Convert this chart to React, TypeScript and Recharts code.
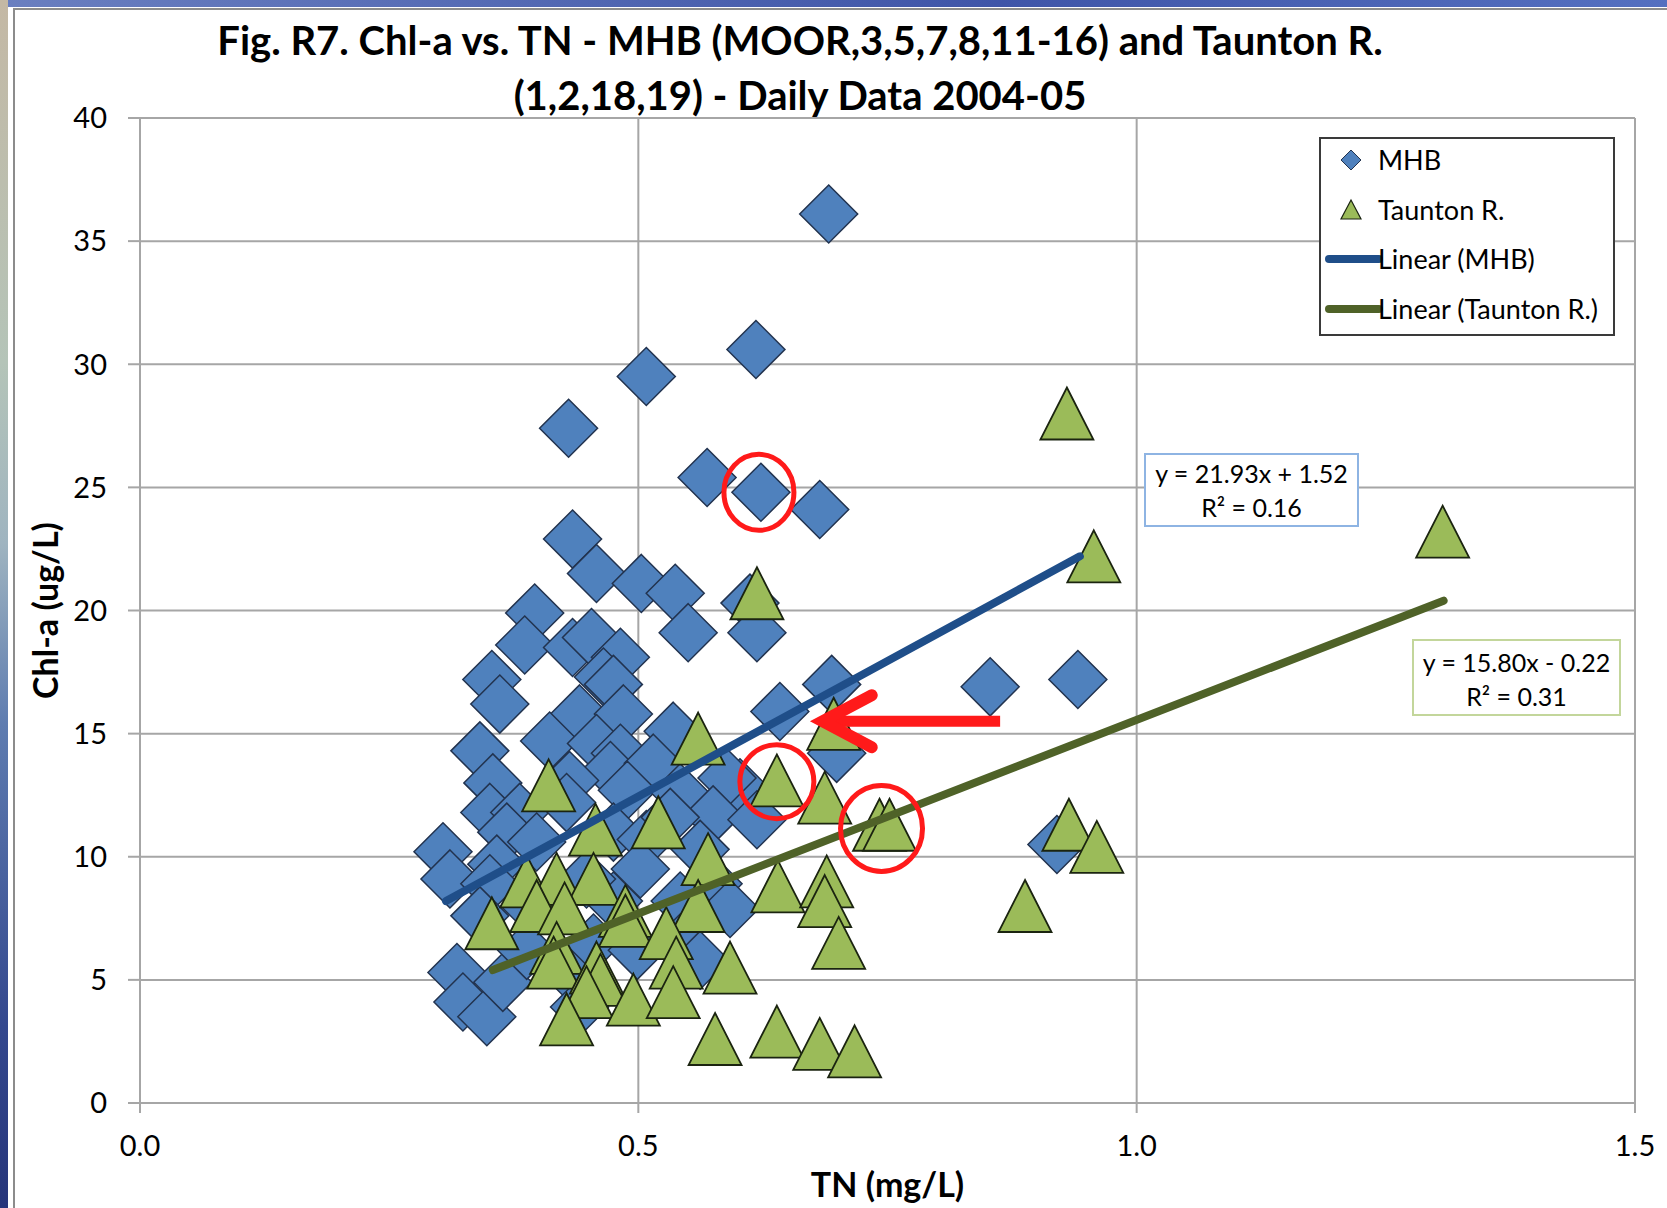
import React from 'react';
import {
  ScatterChart,
  Scatter,
  XAxis,
  YAxis,
  CartesianGrid,
  Legend,
  ReferenceDot,
} from 'recharts';

// TN (mg/L), Chl-a (ug/L) pairs
const mhbPoints: [number, number][] = [
  [0.691, 36.1], [0.618, 30.6], [0.508, 29.5], [0.430, 27.4], [0.569, 25.4],
  [0.623, 24.8], [0.682, 24.1], [0.434, 22.9], [0.458, 21.5], [0.503, 21.1],
  [0.537, 20.7], [0.550, 19.1], [0.612, 20.3], [0.619, 19.1], [0.396, 19.9],
  [0.386, 18.6], [0.434, 18.5], [0.453, 18.9], [0.482, 18.1], [0.465, 17.3],
  [0.475, 17.0], [0.353, 17.2], [0.361, 16.2], [0.441, 15.8], [0.485, 15.8],
  [0.694, 17.0], [0.642, 15.9], [0.699, 14.2], [0.853, 16.9], [0.941, 17.2],
  [0.341, 14.3], [0.411, 14.7], [0.458, 14.6], [0.535, 15.1], [0.482, 14.2],
  [0.472, 13.5], [0.354, 13.0], [0.515, 13.8], [0.431, 13.1], [0.351, 11.8],
  [0.381, 11.8], [0.428, 12.2], [0.489, 12.7], [0.542, 12.6], [0.602, 12.8],
  [0.589, 13.2], [0.575, 11.7], [0.619, 11.5], [0.368, 11.0], [0.304, 10.2],
  [0.311, 9.1], [0.358, 9.7], [0.398, 10.6], [0.475, 11.0], [0.508, 10.7],
  [0.562, 10.3], [0.575, 8.9], [0.592, 7.9], [0.542, 8.2], [0.351, 8.9],
  [0.341, 7.6], [0.391, 8.0], [0.475, 8.2], [0.318, 5.3], [0.324, 4.1],
  [0.348, 3.5], [0.364, 4.9], [0.388, 6.2], [0.428, 5.4], [0.441, 3.9],
  [0.455, 6.5], [0.499, 6.2], [0.542, 6.5], [0.562, 5.8], [0.532, 11.6],
  [0.502, 9.5], [0.448, 9.1], [0.920, 10.5],
];

const tauntonPoints: [number, number][] = [
  [0.930, 28.0], [1.307, 23.2], [0.957, 22.2], [0.619, 20.7], [0.560, 14.8],
  [0.696, 15.4], [0.639, 13.1], [0.687, 12.4], [0.410, 12.9], [0.457, 11.1],
  [0.520, 11.4], [0.742, 11.3], [0.752, 11.3], [0.932, 11.3], [0.960, 10.4],
  [0.570, 9.9], [0.640, 8.8], [0.689, 9.0], [0.687, 8.2], [0.388, 9.0],
  [0.418, 9.1], [0.455, 9.1], [0.398, 8.0], [0.426, 7.9], [0.353, 7.3],
  [0.487, 7.8], [0.487, 7.4], [0.560, 8.0], [0.888, 8.0], [0.528, 6.9],
  [0.701, 6.5], [0.418, 6.3], [0.415, 5.7], [0.458, 5.5], [0.462, 5.0],
  [0.448, 4.5], [0.495, 4.2], [0.428, 3.4], [0.538, 5.7], [0.535, 4.5],
  [0.592, 5.5], [0.577, 2.6], [0.639, 2.9], [0.682, 2.4], [0.717, 2.1],
];

// trendline end points as drawn
const mhbTrend: [number, number][] = [[0.307, 8.2], [0.943, 22.2]];
const tauntonTrend: [number, number][] = [[0.354, 5.4], [1.308, 20.4]];

// red markup: circles and arrow (tail, tip)
const circleMarks: [number, number][] = [[0.621, 24.8], [0.639, 13.05], [0.744, 11.15]];
const arrowMark: [number, number][] = [[0.863, 15.5], [0.682, 15.5]];

const xTicks = [0, 0.5, 1.0, 1.5];
const yTicks = [0, 5, 10, 15, 20, 25, 30, 35, 40];

const seriesNames = ['MHB', 'Taunton R.', 'Linear (MHB)', 'Linear (Taunton R.)'];
const equations = [
  ['y = 21.93x + 1.52', 'R² = 0.16'],
  ['y = 15.80x - 0.22', 'R² = 0.31'],
];

const toXY = (pts: [number, number][]) => pts.map(([x, y]) => ({ x, y }));

const FONT = 'Lato, "Open Sans", sans-serif';
const BLUE = '#4F81BD';
const GREEN = '#9BBB59';
const BLUE_LINE = '#1F4E89';
const GREEN_LINE = '#4F6228';
const GRID = '#a6a6a6';
const RED = '#ff1a1a';

const Diamond = (props: any) => {
  const { cx, cy } = props;
  const h = 29;
  return (
    <path
      d={`M${cx},${cy - h}L${cx + h},${cy}L${cx},${cy + h}L${cx - h},${cy}Z`}
      fill={BLUE}
      stroke="#22334f"
      strokeWidth={1.5}
    />
  );
};

const Triangle = (props: any) => {
  const { cx, cy } = props;
  const w = 26.5;
  const h = 26;
  return (
    <path
      d={`M${cx},${cy - h}L${cx + w},${cy + h}L${cx - w},${cy + h}Z`}
      fill={GREEN}
      stroke="#1b2410"
      strokeWidth={1.8}
    />
  );
};

const NoDot = () => <g />;

// draws the red arrow from the two scatter points (tail -> tip)
const ArrowLine = (props: any) => {
  const pts = props.points || [];
  if (pts.length < 2) return <g />;
  const x1 = pts[0].x ?? pts[0].cx;
  const y1 = pts[0].y ?? pts[0].cy;
  const x2 = pts[1].x ?? pts[1].cx;
  const y2 = pts[1].y ?? pts[1].cy;
  return (
    <g>
      <line x1={x1} y1={y1} x2={x2 + 8} y2={y2} stroke={RED} strokeWidth={11} />
      <polyline
        points={`${x2 + 52},${y2 - 26} ${x2 + 3},${y2} ${x2 + 52},${y2 + 26}`}
        fill="none"
        stroke={RED}
        strokeWidth={12}
        strokeLinecap="round"
        strokeLinejoin="miter"
      />
    </g>
  );
};

const circleSizes = [[35, 38], [37, 37], [41, 43]];

const LegendBox = () => (
  <div
    style={{
      width: 296,
      height: 199,
      boxSizing: 'border-box',
      border: '2px solid #3a3a3a',
      background: '#fff',
      fontFamily: FONT,
      fontSize: 27,
      color: '#000',
      position: 'relative',
    }}
  >
    {seriesNames.map((name, i) => {
      const top = 21 + i * 49.6;
      return (
        <div key={name} style={{ position: 'absolute', left: 0, top: top - 17, height: 34, width: 290 }}>
          <svg width={60} height={34} style={{ position: 'absolute', left: 2, top: 0 }}>
            {i === 0 && <path d="M28,7L38,17L28,27L18,17Z" fill={BLUE} stroke="#22334f" strokeWidth={1} />}
            {i === 1 && <path d="M28,7L38,26L18,26Z" fill={GREEN} stroke="#1b2410" strokeWidth={1.2} />}
            {i >= 2 && (
              <line x1={6} y1={17} x2={56} y2={17} stroke={i === 2 ? BLUE_LINE : GREEN_LINE} strokeWidth={8} strokeLinecap="round" />
            )}
          </svg>
          <span style={{ position: 'absolute', left: 57, top: 0, lineHeight: '34px', whiteSpace: 'nowrap' }}>{name}</span>
        </div>
      );
    })}
  </div>
);

const EqBox = ({ lines, left, top, width, height, border, pad }: any) => (
  <div
    style={{
      position: 'absolute',
      left,
      top,
      width,
      height,
      boxSizing: 'border-box',
      border: `2px solid ${border}`,
      background: '#fff',
      fontFamily: FONT,
      fontSize: 25,
      lineHeight: '34px',
      textAlign: 'center',
      paddingTop: pad,
      color: '#000',
      whiteSpace: 'nowrap',
    }}
  >
    {lines.map((l: string) => (
      <div key={l}>{l}</div>
    ))}
  </div>
);

export default function App() {
  return (
    <div style={{ position: 'absolute', left: 0, top: 0, width: 1667, height: 1208, background: '#fff', overflow: 'hidden' }}>
      {/* slide background showing at the edges */}
      <div style={{ position: 'absolute', left: 0, top: 0, width: 1667, height: 7, background: 'linear-gradient(90deg,#6a7fc0,#3f55a8 60%,#5570c0)' }} />
      <div style={{ position: 'absolute', left: 0, top: 0, width: 8, height: 1208, background: 'linear-gradient(180deg,#c4b8a4 0%,#b4c4b8 30%,#9fb4c0 45%,#5e7cb0 60%,#34488e 85%,#26357a 100%)' }} />
      <div style={{ position: 'absolute', left: 13, top: 8, width: 2, height: 1200, background: '#8c8c8c' }} />
      <div style={{ position: 'absolute', left: 13, top: 8, width: 1654, height: 2, background: '#8c8c8c' }} />

      <ScatterChart
        width={1667}
        height={1208}
        margin={{ top: 118, right: 32, left: 40, bottom: 5 }}
        style={{ position: 'absolute', left: 0, top: 0 }}
      >
        <CartesianGrid stroke={GRID} strokeWidth={2} />
        <XAxis
          type="number"
          dataKey="x"
          domain={[0, 1.5]}
          ticks={xTicks}
          allowDataOverflow
          tickFormatter={(v: number) => v.toFixed(1)}
          height={100}
          tickSize={10}
          tickMargin={22}
          tick={{ fill: '#000', fontSize: 29, fontFamily: FONT }}
          tickLine={{ stroke: GRID, strokeWidth: 2 }}
          axisLine={{ stroke: GRID, strokeWidth: 2 }}
          label={{
            value: 'TN (mg/L)',
            position: 'insideBottom',
            offset: 6,
            style: { fontSize: 34, fontFamily: FONT, fontWeight: 700, fill: '#000' },
          }}
        />
        <YAxis
          type="number"
          dataKey="y"
          domain={[0, 40]}
          ticks={yTicks}
          allowDataOverflow
          width={100}
          tickSize={12}
          tickMargin={21}
          tick={{ fill: '#000', fontSize: 29, fontFamily: FONT }}
          tickLine={{ stroke: GRID, strokeWidth: 2 }}
          axisLine={{ stroke: GRID, strokeWidth: 2 }}
          label={{
            value: 'Chl-a (ug/L)',
            angle: -90,
            position: 'insideLeft',
            offset: 6,
            style: { fontSize: 34, fontFamily: FONT, fontWeight: 700, fill: '#000', textAnchor: 'middle' },
          }}
        />
        <Legend
          layout="horizontal"
          verticalAlign="middle"
          align="center"
          content={() => <LegendBox />}
          wrapperStyle={{ position: 'absolute', left: 1319, top: 137, width: 296, height: 199 }}
        />
        <Scatter name={seriesNames[0]} data={toXY(mhbPoints)} shape={Diamond} isAnimationActive={false} />
        <Scatter name={seriesNames[1]} data={toXY(tauntonPoints)} shape={Triangle} isAnimationActive={false} />
        <Scatter
          name={seriesNames[2]}
          data={toXY(mhbTrend)}
          shape={NoDot}
          line={{ stroke: BLUE_LINE, strokeWidth: 8, strokeLinecap: 'round' }}
          isAnimationActive={false}
        />
        <Scatter
          name={seriesNames[3]}
          data={toXY(tauntonTrend)}
          shape={NoDot}
          line={{ stroke: GREEN_LINE, strokeWidth: 8, strokeLinecap: 'round' }}
          isAnimationActive={false}
        />
        <Scatter
          name="arrow"
          legendType="none"
          data={toXY(arrowMark)}
          shape={NoDot}
          line={ArrowLine}
          isAnimationActive={false}
        />
        {circleMarks.map(([x, y], i) => (
          <ReferenceDot
            key={i}
            x={x}
            y={y}
            r={38}
            shape={(p: any) => (
              <ellipse cx={p.cx} cy={p.cy} rx={circleSizes[i][0]} ry={circleSizes[i][1]} fill="none" stroke={RED} strokeWidth={5} />
            )}
          />
        ))}
      </ScatterChart>

      <div
        style={{
          position: 'absolute',
          left: 0,
          top: 13,
          width: 1600,
          textAlign: 'center',
          fontFamily: FONT,
          fontWeight: 700,
          fontSize: 40,
          lineHeight: '55px',
          color: '#000',
          whiteSpace: 'nowrap',
        }}
      >
        <div>Fig. R7. Chl-a vs. TN - MHB (MOOR,3,5,7,8,11-16) and Taunton R.</div>
        <div>(1,2,18,19) - Daily Data 2004-05</div>
      </div>

      <EqBox lines={equations[0]} left={1144} top={453} width={215} height={74} border="#8EB4E3" pad={1} />
      <EqBox lines={equations[1]} left={1412} top={639} width={209} height={77} border="#C3D69B" pad={4} />
    </div>
  );
}
